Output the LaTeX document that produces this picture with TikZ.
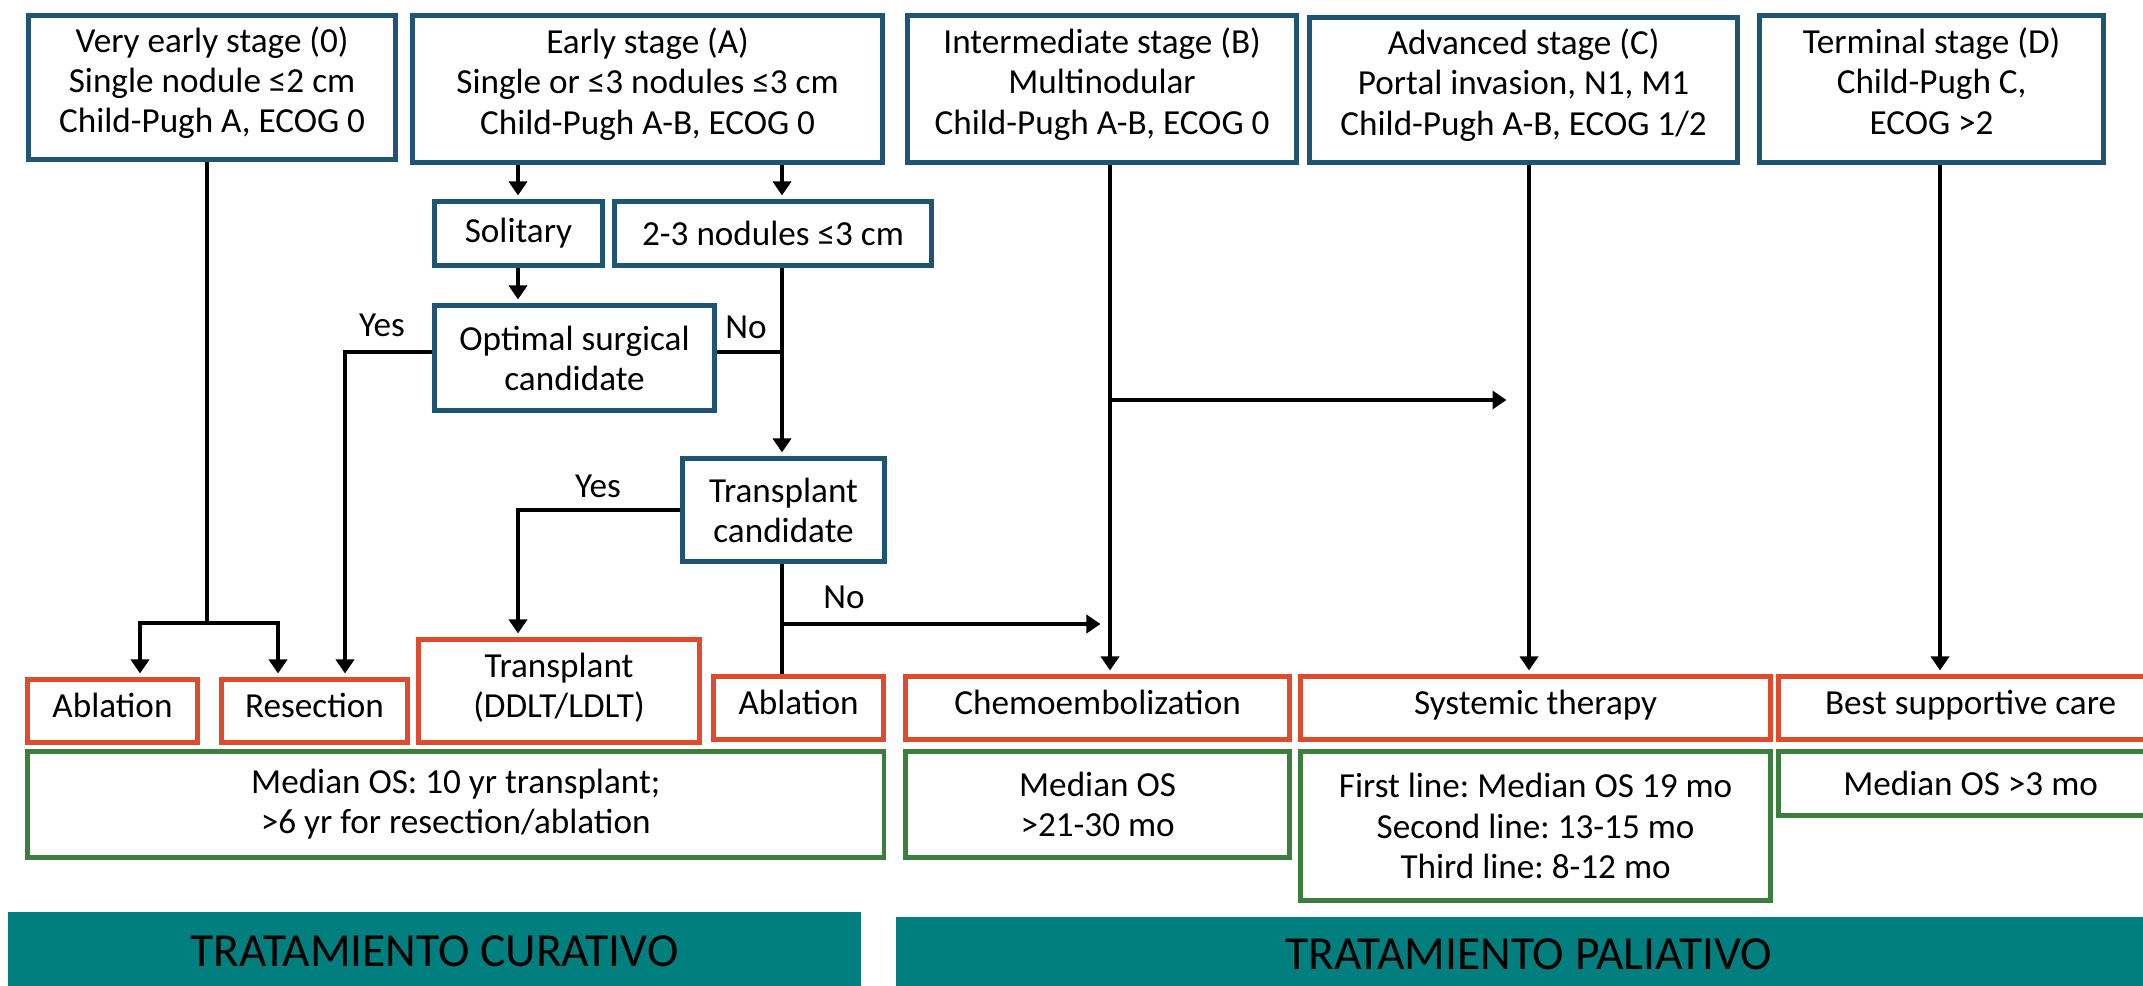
\documentclass[tikz,border=0pt]{standalone}
\usepackage{fontspec}
\setmainfont{Carlito}
\usetikzlibrary{arrows.meta,positioning,calc}
\definecolor{stageblue}{HTML}{1F5572}
\definecolor{treatred}{HTML}{E04B2E}
\definecolor{survgreen}{HTML}{3D7D3D}
\definecolor{bandteal}{HTML}{007F7E}
\frenchspacing
\tikzset{
  box/.style={line width=1.4pt, fill=white, align=center, inner sep=2pt, anchor=north west},
  stagebox/.style={box, draw=stageblue},
  topbox/.style={stagebox, text depth=4.5pt},
  treatbox/.style={box, draw=treatred, text depth=3pt},
  survbox/.style={box, draw=survgreen},
  band/.style={fill=bandteal, anchor=north west, inner sep=0pt, font=\fontsize{13.5}{15}\selectfont},
  arr/.style={-{Triangle[length=1.4mm,width=1.8mm]}, line width=1.4pt, shorten >=1pt},
  link/.style={line width=1.4pt},
  lbl/.style={inner sep=0pt}
}

\begin{document}
\begin{tikzpicture}[x=0.01cm, y=-0.01cm, font=\fontsize{10}{11.4}\selectfont]
  \useasboundingbox (0,0) rectangle (2143,986);

  \node[topbox, minimum width=3.67cm, minimum height=1.44cm] (s0) at (26,13) {Very early stage (0)\\Single nodule ≤2 cm\\Child-Pugh A, ECOG 0};
  \node[topbox, minimum width=4.70cm, minimum height=1.47cm] (sA) at (410,13) {Early stage (A)\\Single or ≤3 nodules ≤3 cm\\Child-Pugh A-B, ECOG 0};
  \node[topbox, minimum width=3.89cm, minimum height=1.47cm] (sB) at (905,13) {Intermediate stage (B)\\Multinodular\\Child-Pugh A-B, ECOG 0};
  \node[topbox, minimum width=4.28cm, minimum height=1.45cm] (sC) at (1307,15) {Advanced stage (C)\\Portal invasion, N1, M1\\Child-Pugh A-B, ECOG 1/2};
  \node[topbox, minimum width=3.44cm, minimum height=1.47cm] (sD) at (1757,13) {Terminal stage (D)\\Child-Pugh C,\\ECOG >2};

  \node[stagebox, minimum width=1.68cm, minimum height=0.64cm] (sol) at (432,199) {Solitary};
  \node[stagebox, minimum width=3.17cm, minimum height=0.64cm] (multi) at (612,199) {2-3 nodules ≤3 cm};
  \node[stagebox, minimum width=2.80cm, minimum height=1.05cm] (opt) at (432,303) {Optimal surgical\\candidate};
  \node[stagebox, minimum width=2.02cm, minimum height=1.03cm] (tc) at (680,456) {Transplant\\candidate};

  \node[treatbox, minimum width=1.70cm, minimum height=0.63cm] (abl1) at (25,677) {Ablation};
  \node[treatbox, minimum width=1.86cm, minimum height=0.63cm] (res) at (219,677) {Resection};
  \node[treatbox, minimum width=2.81cm, minimum height=1.03cm] (trans) at (416,637) {Transplant\\(DDLT/LDLT)};
  \node[treatbox, minimum width=1.70cm, minimum height=0.63cm] (abl2) at (711,674) {Ablation};
  \node[treatbox, minimum width=3.84cm, minimum height=0.63cm] (chemo) at (903,674) {Chemoembolization};
  \node[treatbox, minimum width=4.70cm, minimum height=0.63cm] (sys) at (1298,674) {Systemic therapy};
  \node[treatbox, minimum width=3.84cm, minimum height=0.63cm] (bsc) at (1776,674) {Best supportive care};

  \node[survbox, minimum width=8.56cm, minimum height=1.06cm] (os1) at (25,749) {Median OS: 10 yr transplant;\\>6 yr for resection/ablation};
  \node[survbox, minimum width=3.84cm, minimum height=1.06cm] (os2) at (903,749) {Median OS\\>21-30 mo};
  \node[survbox, minimum width=4.70cm, minimum height=1.49cm] (os3) at (1298,749) {First line: Median OS 19 mo\\Second line: 13-15 mo\\Third line: 8-12 mo};
  \node[survbox, minimum width=3.84cm, minimum height=0.64cm] (os4) at (1776,749) {Median OS >3 mo};

  \node[band, minimum width=8.53cm, minimum height=0.80cm] (cur) at (7,911) {TRATAMIENTO CURATIVO};
  \node[band, minimum width=12.65cm, minimum height=0.75cm] (pal) at (895,916) {TRATAMIENTO PALIATIVO};

  \coordinate (c0) at (207,0);
  \coordinate (cAbl) at (140,0);
  \coordinate (cRes) at (278,0);
  \coordinate (cYes) at (345,0);
  \coordinate (cSol) at (518,0);
  \coordinate (cMul) at (782,0);
  \coordinate (cB) at (1110,0);
  \coordinate (cC) at (1529,0);
  \coordinate (cD) at (1940,0);
  \coordinate (rSplit) at (0,623);
  \coordinate (rOpt) at (0,352);
  \coordinate (rTc) at (0,510);
  \coordinate (rNo) at (0,624);
  \coordinate (rBC) at (0,400);
  \coordinate (noEnd) at (1104,624);
  \coordinate (bcEnd) at (1510,400);

  \draw[link] (s0.south -| c0) -- (rSplit -| c0);
  \draw[arr] (rSplit -| c0) -| (abl1.north -| cAbl);
  \draw[arr] (rSplit -| c0) -| (res.north -| cRes);
  \draw[arr] (sA.south -| cSol) -- (sol.north -| cSol);
  \draw[arr] (sA.south -| cMul) -- (multi.north -| cMul);
  \draw[arr] (sol.south -| cSol) -- (opt.north -| cSol);
  \draw[arr] (opt.west |- rOpt) -| (res.north -| cYes);
  \draw[link] (opt.east |- rOpt) -- (rOpt -| cMul);
  \draw[arr] (multi.south -| cMul) -- (tc.north -| cMul);
  \draw[arr] (tc.west |- rTc) -| (trans.north -| cSol);
  \draw[link] (tc.south -| cMul) -- (abl2.north -| cMul);
  \draw[arr] (rNo -| cMul) -- (noEnd);
  \draw[arr] (sB.south -| cB) -- (chemo.north -| cB);
  \draw[arr] (rBC -| cB) -- (bcEnd);
  \draw[arr] (sC.south -| cC) -- (sys.north -| cC);
  \draw[arr] (sD.south -| cD) -- (bsc.north -| cD);

  \node[lbl] (yes1) at (382,325) {Yes};
  \node[lbl] (no1) at (746,327) {No};
  \node[lbl] (yes2) at (598,486) {Yes};
  \node[lbl] (no2) at (844,597) {No};
\end{tikzpicture}
\end{document}
